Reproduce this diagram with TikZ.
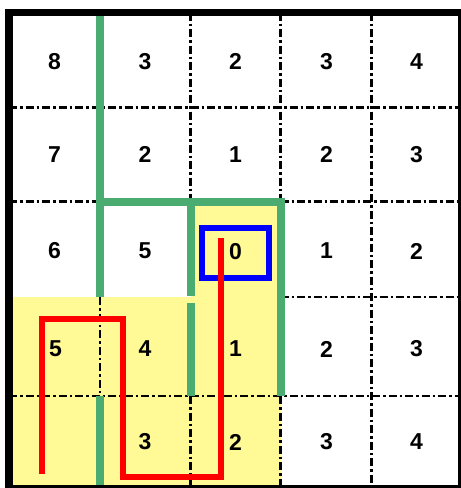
\documentclass[tikz,border=0pt]{standalone}
\usepackage{fontspec}
\setmainfont{Liberation Sans}
\begin{document}
\begin{tikzpicture}[x=1pt,y=-1pt,
  cellyellow/.style={fill=yel},
  gridline/.style={line width=2.4pt,black,dash pattern=on 8pt off 3pt on 2.5pt off 3pt},
  wall/.style={line width=8pt,grn,line join=miter},
  num/.style={font=\fontsize{23}{26}\selectfont\bfseries,inner sep=0pt},
  goalbox/.style={line width=6pt,blue},
  route/.style={line width=6pt,red,line join=miter}]
\definecolor{yel}{RGB}{255,250,150}
\definecolor{grn}{RGB}{74,172,112}
\useasboundingbox (0,0) rectangle (461,488);
\clip (0,0) rectangle (461,488);
% yellow cells
\fill[cellyellow] (190.5,201.5) rectangle (280.5,489);
\fill[cellyellow] (9,297) rectangle (190.5,489);
% dashed grid lines
\draw[gridline] (9,107.3) -- (461,107.3);
\draw[gridline] (9,201.5) -- (100,201.5);
\draw[gridline] (280.5,201.5) -- (461,201.5);
\draw[gridline] (280.5,297) -- (461,297);
\draw[gridline] (9,396) -- (461,396);
\draw[gridline] (100,297) -- (100,396);
\draw[gridline] (190.5,12.5) -- (190.5,201.5);
\draw[gridline] (190.5,396) -- (190.5,489);
\draw[gridline] (280.5,12.5) -- (280.5,201.5);
\draw[gridline] (280.5,396) -- (280.5,489);
\draw[gridline] (371.5,12.5) -- (371.5,489);
% green walls
\draw[wall] (100,12.5) -- (100,297);
\draw[wall] (100,201.5) -- (280.5,201.5) -- (280.5,396);
\draw[wall] (190.5,201.5) -- (190.5,296);
\draw[wall] (190.5,303) -- (190.5,396);
\draw[wall] (100,396) -- (100,489);
% goal box
\draw[goalbox] (202,228) rectangle (269,278);
% route
\coordinate (r0) at (221,238);
\coordinate (r1) at (221,476.5);
\coordinate (r2) at (122.7,476.5);
\coordinate (r3) at (122.7,318.5);
\coordinate (r4) at (41.7,318.5);
\coordinate (r5) at (41.7,474);
\draw[route] (r0) -- (r1) -- (r2) -- (r3) -- (r4) -- (r5);
% numbers
\node[num] (a11) at (54.5,61.5) {8};
\node[num] (a12) at (145,61.5) {3};
\node[num] (a13) at (235.5,61.5) {2};
\node[num] (a14) at (326.5,61.5) {3};
\node[num] (a15) at (416.5,61.5) {4};
\node[num] (a21) at (54.5,154.5) {7};
\node[num] (a22) at (145,154.5) {2};
\node[num] (a23) at (235.5,154.5) {1};
\node[num] (a24) at (326.5,154.5) {2};
\node[num] (a25) at (416.5,154.5) {3};
\node[num] (a31) at (54.5,251) {6};
\node[num] (a32) at (145,251) {5};
\node[num] (a33) at (235.5,252) {0};
\node[num] (a34) at (326.5,251) {1};
\node[num] (a35) at (416.5,251) {2};
\node[num] (a41) at (55.5,349) {5};
\node[num] (a42) at (145,349) {4};
\node[num] (a43) at (235.5,349) {1};
\node[num] (a44) at (326.5,349) {2};
\node[num] (a45) at (416.5,349) {3};
\node[num] (a52) at (145,442) {3};
\node[num] (a53) at (235.5,442) {2};
\node[num] (a54) at (326.5,442) {3};
\node[num] (a55) at (416.5,442) {4};
% outer border
\draw[line width=7.5pt,black] (9,12.5) rectangle (461.5,488.5);
\end{tikzpicture}
\end{document}
